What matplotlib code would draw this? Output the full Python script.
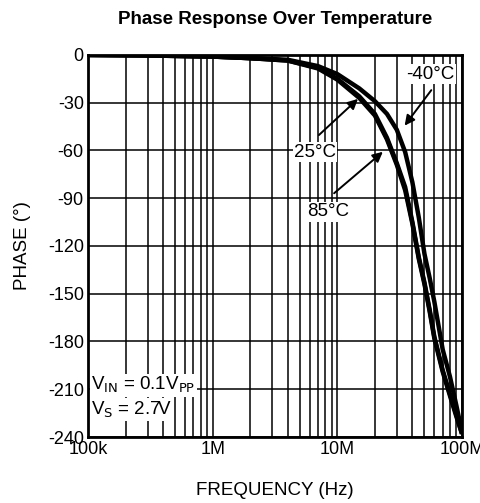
import matplotlib
matplotlib.use('Agg')
import matplotlib.pyplot as plt
from matplotlib.ticker import LogLocator, NullFormatter, FixedLocator

plt.rcParams['font.family'] = ['Liberation Sans', 'DejaVu Sans']

# frequency points (Hz) and phase readings (degrees)
freq_mhz = [0.1, 0.3, 1, 2, 4, 7, 10, 15, 20, 25, 30, 35, 40, 45, 50, 55, 60, 70, 80, 90, 100]
phase_m40 = [0, -0.3, -1, -2, -3, -7, -12, -21, -29, -37, -47, -61, -80, -102, -125, -140, -155, -185, -202, -220, -237]
phase_25 = [0, -0.3, -1, -2, -3.5, -8, -15, -26, -37, -52, -68, -83, -105, -127, -143, -160, -177, -198, -213, -226, -238]
phase_85 = [0, -0.3, -1, -2, -3.5, -8.5, -15.5, -27, -38, -53, -69, -85, -106, -128, -144, -161, -178, -199, -214, -227, -238]

x_ticks = [1e5, 1e6, 1e7, 1e8]
x_labels = ['100k', '1M', '10M', '100M']
y_ticks = [0, -30, -60, -90, -120, -150, -180, -210, -240]

freq = [f * 1e6 for f in freq_mhz]

fig = plt.figure(figsize=(4.81, 5.03), dpi=100)
ax = fig.add_axes([0.183, 0.1312, 0.7775, 0.7595])

for ph in (phase_m40, phase_25, phase_85):
    ax.plot(freq, ph, color='black', lw=3.2, solid_capstyle='butt', zorder=3)

ax.set_xscale('log')
ax.set_xlim(1e5, 1e8)
ax.set_ylim(-240, 0)
ax.xaxis.set_major_locator(FixedLocator(x_ticks))
ax.set_xticklabels(x_labels)
ax.xaxis.set_minor_locator(LogLocator(base=10, subs=range(2, 10)))
ax.xaxis.set_minor_formatter(NullFormatter())
ax.set_yticks(y_ticks)
ax.set_yticklabels([str(v) for v in y_ticks])

ax.grid(True, which='major', color='black', lw=1.1)
ax.grid(True, which='minor', axis='x', color='black', lw=1.1)
ax.tick_params(which='both', length=0, labelsize=13)
ax.tick_params(axis='x', pad=3)
ax.tick_params(axis='y', pad=3)
for s in ax.spines.values():
    s.set_linewidth(2)
    s.set_zorder(4)

ax.set_title('Phase Response Over Temperature', fontsize=13.5, fontweight='bold', pad=22)
ax.set_xlabel('FREQUENCY (Hz)', fontsize=13.5, labelpad=17)
ax.set_ylabel('PHASE (°)', fontsize=13.5, labelpad=12)

box = dict(facecolor='white', edgecolor='none', pad=1)
arrow = dict(arrowstyle='-|>', color='black', lw=1.4, mutation_scale=15)

ax.text(5.6e7, -12, '-40°C', fontsize=13.5, ha='center', va='center', bbox=box, zorder=5)
ax.annotate('', xy=(3.36e7, -45.8), xytext=(5.85e7, -20.7), arrowprops=arrow, zorder=5)

ax.text(6.6e6, -61, '25°C', fontsize=13.5, ha='center', va='center', bbox=box, zorder=5)
ax.annotate('', xy=(1.52e7, -26.4), xytext=(6.85e6, -51.5), arrowprops=arrow, zorder=5)

ax.text(8.4e6, -98.6, '85°C', fontsize=13.5, ha='center', va='center', bbox=box, zorder=5)
ax.annotate('', xy=(2.41e7, -59.7), xytext=(9.06e6, -88), arrowprops=arrow, zorder=5)

ax.text(0.008, 0.136, r'V$_{\mathrm{IN}}$ = 0.1V$_{\mathrm{PP}}$', transform=ax.transAxes,
        fontsize=13.5, ha='left', va='center', bbox=box, zorder=5)
ax.text(0.008, 0.072, r'V$_{\mathrm{S}}$ = 2.7V', transform=ax.transAxes,
        fontsize=13.5, ha='left', va='center', bbox=box, zorder=5)

fig.savefig('out.png', dpi=100)
